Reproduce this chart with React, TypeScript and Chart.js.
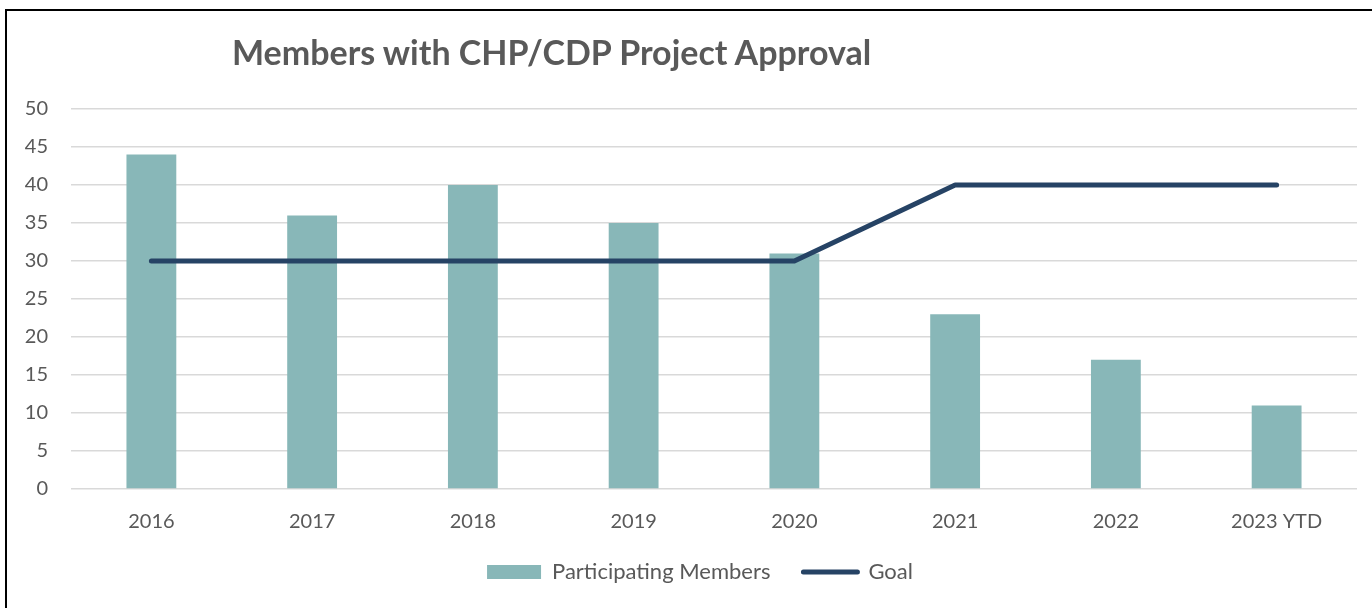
import React, { useEffect, useRef } from "react";
import { Chart, registerables } from "chart.js";

Chart.register(...registerables);

const categories = ["2016", "2017", "2018", "2019", "2020", "2021", "2022", "2023 YTD"];
const participatingMembers = [44, 36, 40, 35, 31, 23, 17, 11];
const goal = [30, 30, 30, 30, 30, 40, 40, 40];
const yTicks = [0, 5, 10, 15, 20, 25, 30, 35, 40, 45, 50];

const FONT = "Lato, 'Open Sans', sans-serif";
const GRAY = "#595959";
const BAR = "#88B7B8";
const LINE = "#264365";

const legendShift = {
  id: "legendShift",
  afterLayout(chart: any) {
    if (chart.legend) {
      chart.legend.left += 43;
    }
  },
};

export default function App() {
  const ref = useRef<HTMLCanvasElement | null>(null);

  useEffect(() => {
    if (!ref.current) return;
    const chart = new Chart(ref.current, {
      type: "bar",
      data: {
        labels: categories,
        datasets: [
          {
            type: "bar",
            label: "Participating Members",
            data: participatingMembers,
            backgroundColor: BAR,
            borderWidth: 0,
            categoryPercentage: 1,
            barPercentage: 0.31,
            order: 2,
          },
          {
            type: "line",
            label: "Goal",
            data: goal,
            borderColor: LINE,
            backgroundColor: LINE,
            borderWidth: 5,
            borderCapStyle: "round",
            borderJoinStyle: "round",
            pointRadius: 0,
            tension: 0,
            order: 1,
          },
        ],
      },
      plugins: [legendShift],
      options: {
        animation: false,
        responsive: false,
        maintainAspectRatio: false,
        layout: { padding: { left: 0, right: 15, top: 109, bottom: 15 } },
        scales: {
          x: {
            grid: { display: false, drawTicks: false },
            border: { display: false },
            ticks: { color: GRAY, font: { family: FONT, size: 20 }, padding: 21, maxRotation: 0 },
            afterFit: (s: any) => {
              s.height = 39;
            },
          },
          y: {
            min: 0,
            max: 50,
            grid: { color: "#d9d9d9", lineWidth: 1.5, drawTicks: false },
            border: { display: false },
            ticks: {
              color: GRAY,
              font: { family: FONT, size: 20 },
              padding: 23,
              stepSize: 5,
              callback: (v: any) => (yTicks.includes(Number(v)) ? String(v) : ""),
            },
            afterFit: (s: any) => {
              s.width = 71;
            },
          },
        },
        plugins: {
          title: { display: false },
          tooltip: { enabled: false },
          legend: {
            display: true,
            position: "bottom",
            labels: {
              color: GRAY,
              font: { family: FONT, size: 22 },
              usePointStyle: true,
              pointStyleWidth: 54,
              boxHeight: 14,
              padding: 33,
              sort: (a: any, b: any) => a.datasetIndex - b.datasetIndex,
              generateLabels: (c: any) => {
                const items = Chart.defaults.plugins.legend.labels.generateLabels(c);
                return items.map((it: any) =>
                  it.datasetIndex === 0
                    ? { ...it, pointStyle: "rect", lineWidth: 0, fillStyle: BAR, strokeStyle: BAR }
                    : { ...it, pointStyle: "line", lineWidth: 5, lineCap: "round", strokeStyle: LINE }
                );
              },
            },
          },
        },
      },
    });
    return () => chart.destroy();
  }, []);

  return (
    <div style={{ position: "fixed", left: 0, top: 0, width: 1372, height: 608, background: "#fff", overflow: "hidden" }}>
      <div
        style={{
          position: "absolute",
          left: 5,
          top: 9,
          width: 1500,
          height: 700,
          borderLeft: "2px solid #000",
          borderTop: "2px solid #000",
        }}
      />
      <canvas ref={ref} width={1372} height={608} style={{ position: "absolute", left: 0, top: 0 }} />
      <div
        style={{
          position: "absolute",
          left: 232,
          top: 31,
          fontFamily: FONT,
          fontWeight: 700,
          fontSize: 34,
          color: GRAY,
          whiteSpace: "nowrap",
          lineHeight: "normal",
        }}
      >
        Members with CHP/CDP Project Approval
      </div>
    </div>
  );
}
